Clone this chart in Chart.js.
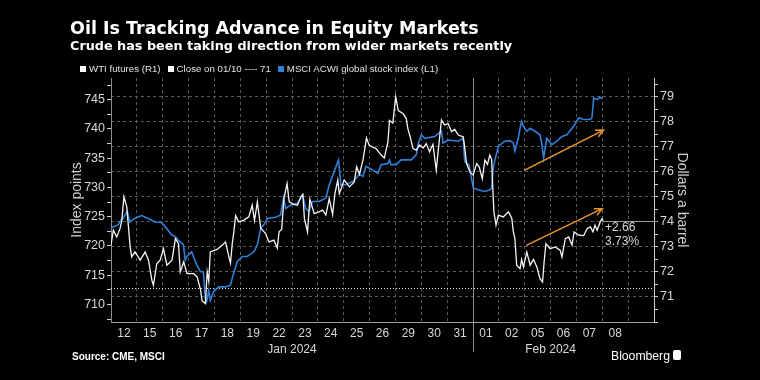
<!DOCTYPE html>
<html><head><meta charset="utf-8">
<script src="https://cdn.jsdelivr.net/npm/chart.js@4.4.1/dist/chart.umd.min.js"></script>
<style>
html,body{margin:0;padding:0;background:#000;}
#wrap{position:relative;width:760px;height:380px;background:#000;overflow:hidden;font-family:"Liberation Sans",Arial,sans-serif;}
canvas{position:absolute;left:0;top:0;}
.t{position:absolute;color:#fff;white-space:nowrap;line-height:1;}
.lg{position:absolute;top:63px;left:80px;font-size:9.7px;color:#e0e0e0;white-space:nowrap;line-height:12px;}
.sq{display:inline-block;width:6px;height:6px;margin-right:3px;vertical-align:0px;}
.it{margin-right:7px;}
</style></head><body>
<div id="wrap">
<canvas id="c" width="760" height="380"></canvas>
<div class="t" style="left:70px;top:20px;font-family:'DejaVu Sans',sans-serif;font-size:17.5px;font-weight:bold;">Oil Is Tracking Advance in Equity Markets</div>
<div class="t" style="left:70px;top:40px;font-family:'DejaVu Sans',sans-serif;font-size:12.8px;font-weight:bold;">Crude has been taking direction from wider markets recently</div>
<div class="lg"><span class="it"><span class="sq" style="background:#fff"></span>WTI futures (R1)</span><span class="it"><span class="sq" style="background:#fff"></span>Close on 01/10 ---- 71</span><span class="it"><span class="sq" style="background:#2f80d8"></span>MSCI ACWI global stock index (L1)</span></div>
<div class="t" style="left:72px;top:352px;font-size:10px;font-weight:bold;">Source: CME, MSCI</div>
<div class="t" style="left:611px;top:350px;font-size:12.2px;">Bloomberg</div>
<div style="position:absolute;left:673px;top:350px;width:8px;height:10px;background:#fff;border-radius:2px;"></div>
</div>
<script>
// ---- data ----
const dayLabels = ['12','15','16','17','18','19','22','23','24','25','26','29','30','31','01','02','05','06','07','08'];
const monthNames = ['Jan 2024','Feb 2024'];
const monthBreak = 14;           // first trading-day slot of February
const slotCount = 21;            // axis spans 21 trading-day slots
const closeJan10 = 71.37;        // WTI close on 01/10
const changeAbs = '+2.66';
const changePct = '3.73%';

// MSCI ACWI (left axis): trading-day position, index points
const msciT = [0,0.27,0.38,0.47,0.63,0.73,0.92,1.18,1.44,1.70,1.95,2.15,2.34,2.49,2.60,2.80,2.87,2.95,3.12,3.31,3.46,3.57,3.65,3.70,3.78,3.84,3.97,4.17,4.43,4.62,4.69,4.88,5.08,5.27,5.53,5.66,5.79,5.91,6.05,6.37,6.56,6.67,6.76,6.95,7.21,7.41,7.53,7.66,7.79,8.05,8.31,8.44,8.63,8.77,8.80,8.89,9.09,9.35,9.48,9.60,9.75,9.86,10.12,10.32,10.45,10.71,10.77,10.83,11.03,11.22,11.61,11.81,11.87,12.00,12.13,12.52,12.78,12.84,13.04,13.43,13.62,13.68,13.84,13.94,14.01,14.20,14.46,14.65,14.72,14.78,14.85,14.98,15.11,15.23,15.42,15.56,15.62,15.75,15.82,15.88,15.96,16.08,16.21,16.40,16.59,16.66,16.73,16.85,17.05,17.24,17.44,17.63,17.83,17.94,18.09,18.28,18.54,18.60,18.67,18.80,18.92,18.99];
const msciV = [723.1,723.6,724.4,724.7,725.9,724.1,724.7,725.2,724.7,724.1,724.0,723.0,721.9,721.6,721.0,720.2,717.6,718.3,719.0,716.8,715.6,715.6,711.0,710.5,712.4,710.7,712.2,713.0,713.0,713.3,714.5,717.3,718.2,718.2,719.0,720.2,723.0,723.6,724.7,724.9,725.3,728.2,726.4,727.0,727.3,728.7,726.4,725.9,727.6,727.6,728.2,730.4,732.7,734.4,734.7,730.4,730.5,731.0,731.6,732.2,731.9,733.6,733.0,732.4,733.9,734.1,734.7,733.9,733.9,734.7,734.7,735.6,737.3,739.0,738.4,738.7,739.6,737.6,738.1,737.9,738.4,734.4,733.9,731.6,729.9,729.6,729.3,729.6,729.9,733.3,734.7,737.0,737.5,737.9,738.0,737.6,736.2,738.4,740.1,741.3,740.3,739.6,740.1,739.6,739.0,737.5,735.0,738.4,737.3,737.9,738.7,739.0,740.1,740.8,741.9,741.6,741.6,741.9,745.3,745.0,745.4,745.2];

// WTI futures (right axis): trading-day position, dollars a barrel
const wtiT = [0,0.09,0.22,0.35,0.42,0.50,0.61,0.74,0.80,0.93,1.13,1.32,1.45,1.58,1.64,1.77,1.90,2.03,2.16,2.36,2.49,2.61,2.68,2.81,2.94,3.20,3.33,3.46,3.52,3.65,3.72,3.78,3.84,4.10,4.30,4.43,4.56,4.62,4.69,4.75,4.82,4.94,5.14,5.33,5.46,5.55,5.66,5.79,5.98,6.11,6.30,6.43,6.50,6.60,6.69,6.81,6.89,7.07,7.21,7.34,7.42,7.48,7.60,7.69,7.86,8.04,8.19,8.31,8.44,8.57,8.66,8.77,8.83,9.02,9.22,9.41,9.50,9.61,9.75,9.88,9.99,10.25,10.45,10.57,10.71,10.77,10.90,11.01,11.11,11.29,11.42,11.48,11.57,11.68,11.81,11.93,12.07,12.19,12.32,12.45,12.58,12.65,12.78,12.90,13.04,13.17,13.29,13.43,13.62,13.66,13.75,13.88,14.01,14.14,14.24,14.36,14.46,14.56,14.65,14.72,14.76,14.81,14.89,14.98,15.17,15.37,15.50,15.56,15.62,15.69,15.82,15.88,15.95,16.08,16.21,16.34,16.47,16.59,16.69,16.75,16.82,16.98,17.18,17.37,17.44,17.57,17.70,17.83,17.91,18.09,18.28,18.41,18.54,18.64,18.72,18.80,18.92,18.99,19.03];
const wtiV = [73.07,73.67,73.4,73.73,74.07,75.0,74.6,73.0,72.6,72.8,72.47,72.8,72.47,71.67,71.47,72.33,72.47,72.93,72.27,72.47,73.33,73.13,72.0,72.4,71.93,71.93,71.8,71.3,70.85,70.73,72.0,71.63,72.8,72.9,73.07,73.2,72.6,72.35,73.13,73.6,74.25,74.0,74.07,74.2,74.67,74.05,74.8,73.75,73.53,73.2,73.27,72.95,73.6,73.7,74.95,75.53,74.8,74.7,74.67,75.0,75.1,74.13,73.6,74.9,74.33,74.4,74.47,74.27,74.93,74.3,75.13,75.67,75.13,75.67,75.4,75.6,76.2,75.9,76.5,77.35,77.05,76.93,76.67,76.55,77.2,78.05,77.95,79.0,78.45,78.33,78.13,77.73,77.4,76.93,76.87,77.07,76.95,77.13,76.8,77.1,76.07,76.8,78.07,77.87,77.93,77.6,77.7,77.47,77.4,77.13,76.33,76.0,75.87,76.33,76.2,75.73,76.47,76.3,76.67,76.5,75.47,74.4,73.87,74.27,74.2,74.4,74.15,73.6,73.33,72.27,72.13,72.5,72.2,72.8,72.27,72.5,72.2,71.73,71.6,72.4,73.13,72.93,73.0,72.87,72.6,73.33,73.4,73.07,73.6,73.47,73.45,73.73,73.8,73.6,73.87,73.67,74.0,74.13,74.03];

// trend arrows drawn on the right (WTI) axis: [t0, v0, t1, v1]
const arrowT0 = [16.0, 16.08];
const arrowV0 = [76.07, 73.07];
const arrowT1 = [19.05, 19.0];
const arrowV1 = [77.67, 74.53];

const leftMin = 707, leftMax = 748.7;
const rightMin = 70, rightMax = 79.75;

// ---- chart ----
const FONT = '"Liberation Sans", Arial, sans-serif';
const TXT = '#d8d8d8';
const GRID = '#5a5a5a';

const toPts = (t, v) => t.map((x, i) => ({x, y: v[i]}));

const extras = {
  id: 'extras',
  beforeDatasetsDraw(chart) {
    const {ctx, chartArea: a, scales: {x, yR}} = chart;
    ctx.save();
    const mx = Math.round(x.getPixelForValue(monthBreak)) + 0.5;
    ctx.strokeStyle = '#8c8c8c'; ctx.lineWidth = 1;
    ctx.beginPath(); ctx.moveTo(mx, a.top); ctx.lineTo(mx, 352); ctx.stroke();
    const cy = Math.round(yR.getPixelForValue(closeJan10)) + 0.5;
    ctx.setLineDash([1, 2]); ctx.strokeStyle = '#e6e6e6';
    ctx.beginPath(); ctx.moveTo(a.left, cy); ctx.lineTo(a.right, cy); ctx.stroke();
    ctx.restore();
  },
  afterDatasetsDraw(chart) {
    const {ctx, chartArea: a, scales: {x, yR}} = chart;
    ctx.save();
    // last value line
    const lt = wtiT[wtiT.length - 1], lv = wtiV[wtiV.length - 1];
    const lx = x.getPixelForValue(lt), ly = Math.round(yR.getPixelForValue(lv)) + 0.5;
    ctx.strokeStyle = '#9a9a9a'; ctx.lineWidth = 1;
    ctx.beginPath(); ctx.moveTo(lx, ly); ctx.lineTo(a.right + 4, ly); ctx.stroke();
    ctx.fillStyle = TXT; ctx.font = '12px ' + FONT; ctx.textBaseline = 'middle'; ctx.textAlign = 'left';
    ctx.fillText(changeAbs, lx + 2, ly + 6);
    ctx.fillText(changePct, lx + 2, ly + 20);
    // arrows
    ctx.strokeStyle = '#e8952f'; ctx.lineWidth = 1.5; ctx.lineCap = 'round';
    for (let i = 0; i < arrowT0.length; i++) {
      const x0 = x.getPixelForValue(arrowT0[i]), y0 = yR.getPixelForValue(arrowV0[i]);
      const x1 = x.getPixelForValue(arrowT1[i]), y1 = yR.getPixelForValue(arrowV1[i]);
      const ang = Math.atan2(y1 - y0, x1 - x0), L = 8, w = 0.45;
      ctx.beginPath(); ctx.moveTo(x0, y0); ctx.lineTo(x1, y1);
      ctx.moveTo(x1 - L * Math.cos(ang - w), y1 - L * Math.sin(ang - w)); ctx.lineTo(x1, y1);
      ctx.lineTo(x1 - L * Math.cos(ang + w), y1 - L * Math.sin(ang + w));
      ctx.stroke();
    }
    // month labels
    ctx.fillStyle = TXT; ctx.font = '12px ' + FONT; ctx.textAlign = 'center'; ctx.textBaseline = 'middle';
    ctx.fillText(monthNames[0], x.getPixelForValue(monthBreak / 2), 350);
    ctx.fillText(monthNames[1], x.getPixelForValue((monthBreak + dayLabels.length) / 2), 350);
    // axis titles
    ctx.font = '14px ' + FONT; ctx.fillStyle = '#d0d0d0';
    const cyy = (a.top + a.bottom) / 2;
    ctx.save(); ctx.translate(77, cyy); ctx.rotate(-Math.PI / 2); ctx.fillText('Index points', 0, 0); ctx.restore();
    ctx.save(); ctx.translate(682, cyy); ctx.rotate(Math.PI / 2); ctx.fillText('Dollars a barrel', 0, 0); ctx.restore();
    ctx.restore();
  }
};

new Chart(document.getElementById('c'), {
  type: 'line',
  data: {
    datasets: [
      {label: 'WTI futures (R1)', data: toPts(wtiT, wtiV), yAxisID: 'yR', xAxisID: 'x',
       borderColor: '#f4f4f4', borderWidth: 1.3, pointRadius: 0, tension: 0, order: 0},
      {label: 'MSCI ACWI global stock index (L1)', data: toPts(msciT, msciV), yAxisID: 'yL', xAxisID: 'x',
       borderColor: '#2f80d8', borderWidth: 1.6, pointRadius: 0, tension: 0, order: 1}
    ]
  },
  options: {
    responsive: false, animation: false, devicePixelRatio: 1,
    layout: {padding: {top: 78, left: 0, right: 0, bottom: 0}},
    plugins: {legend: {display: false}, tooltip: {enabled: false}},
    scales: {
      x: {
        type: 'linear', min: 0, max: slotCount, position: 'bottom',
        afterBuildTicks: s => { const t = []; for (let k = 1; k < dayLabels.length * 2 + 1; k++) t.push({value: k / 2}); s.ticks = t; },
        afterFit: s => { s.height = 58; },
        ticks: {autoSkip: false, maxRotation: 0, color: TXT, font: {size: 12, family: FONT}, padding: 4,
          callback: v => (Math.abs(v % 1 - 0.5) < 1e-6 ? dayLabels[Math.floor(v)] : '')},
        grid: {drawTicks: false, lineWidth: 1,
          color: c => { const v = c.tick ? c.tick.value : 0; return (v % 1 === 0 && v !== monthBreak) ? GRID : 'rgba(0,0,0,0)'; }},
        border: {display: true, color: '#a0a0a0', width: 1, dash: [3, 3]}
      },
      yL: {
        type: 'linear', position: 'left', min: leftMin, max: leftMax,
        afterBuildTicks: s => { const t = []; for (let v = 707.5; v <= 748; v += 2.5) t.push({value: v}); s.ticks = t; },
        afterFit: s => { s.width = 111; },
        ticks: {autoSkip: false, color: TXT, font: {size: 12.5, family: FONT}, padding: 2,
          callback: v => (v % 5 === 0 ? String(v) : '')},
        grid: {drawOnChartArea: false, tickLength: 4, tickColor: '#cfcfcf', tickWidth: 1},
        border: {display: true, color: '#8a8a8a', width: 1}
      },
      yR: {
        type: 'linear', position: 'right', min: rightMin, max: rightMax,
        afterBuildTicks: s => { const t = []; for (let v = 70; v <= 79.5; v += 0.5) t.push({value: v}); s.ticks = t; },
        afterFit: s => { s.width = 106; },
        ticks: {autoSkip: false, color: TXT, font: {size: 12.5, family: FONT}, padding: 2,
          callback: v => (v % 1 === 0 && v > 70 ? String(v) : '')},
        grid: {tickLength: 4, tickColor: '#cfcfcf', tickWidth: 1, tickBorderDash: [],
          color: c => { const v = c.tick ? c.tick.value : 0; return (v % 1 === 0 && v > 70) ? GRID : 'rgba(0,0,0,0)'; }},
        border: {display: true, color: '#d0d0d0', width: 1, dash: [3, 3]}
      }
    }
  },
  plugins: [extras]
});
</script>
</body></html>
